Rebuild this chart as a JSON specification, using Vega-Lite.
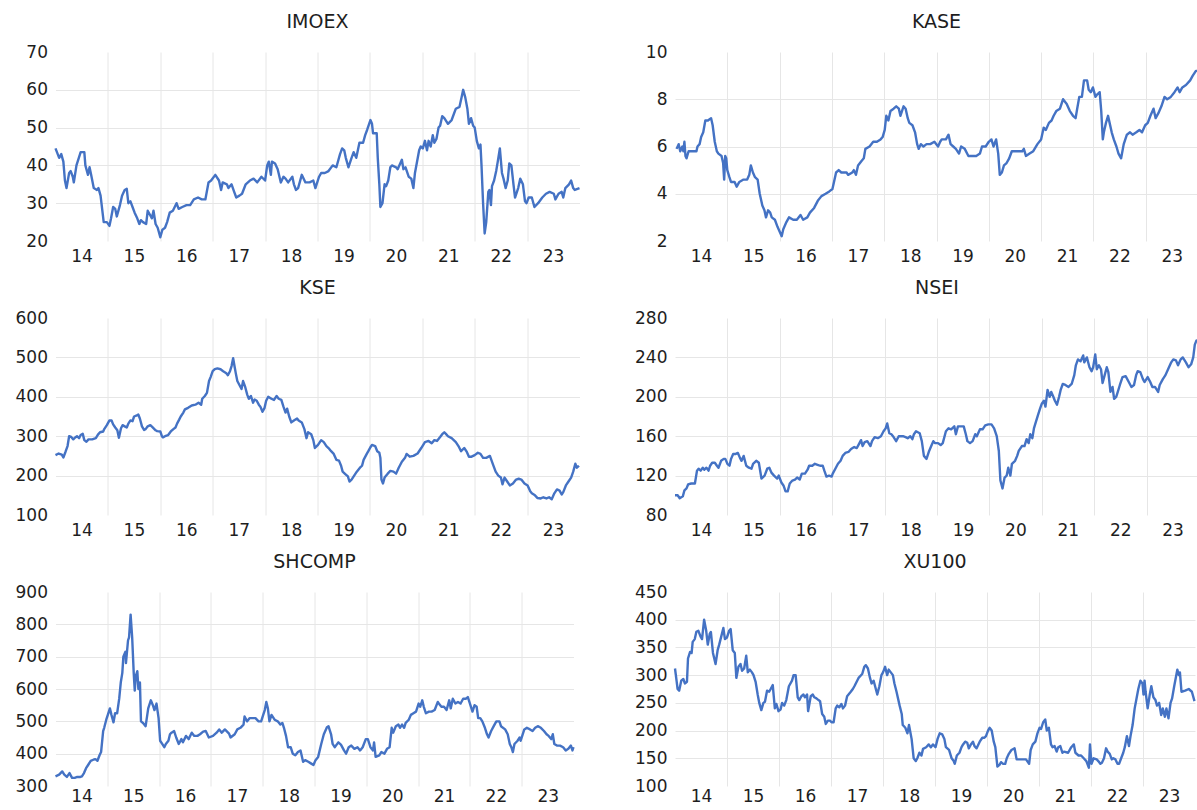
{
"$schema":"https://vega.github.io/schema/vega-lite/v6.json",
"padding":{"left":14.5,"top":13,"right":0,"bottom":0},
"background":"white",
"columns":2,
"spacing":{"row":77,"column":95.5},
"bounds":"flush",
"align":"none",
"config":{
 "view":{"stroke":null},
 "axis":{"domain":false,"ticks":false,"grid":true,"gridColor":"#e6e6e6","gridWidth":1,"labelFont":"DejaVu Sans","labelFontSize":17,"labelColor":"#1e1e1e","title":null},
 "title":{"font":"DejaVu Sans","fontSize":19,"fontWeight":"normal","color":"#1e1e1e","baseline":"bottom","offset":11,"anchor":"middle"},
 "line":{"color":"#4472c4","strokeWidth":2.4,"strokeJoin":"round"}
},
"datasets":{
"IMOEX":[{"t":2014.00,"v":44.5},{"t":2014.07,"v":42},{"t":2014.11,"v":43},{"t":2014.15,"v":41},{"t":2014.18,"v":36},{"t":2014.21,"v":34},{"t":2014.26,"v":38},{"t":2014.29,"v":38.5},{"t":2014.33,"v":37},{"t":2014.35,"v":35.5},{"t":2014.40,"v":40},{"t":2014.48,"v":43.5},{"t":2014.55,"v":43.5},{"t":2014.57,"v":40},{"t":2014.62,"v":37.5},{"t":2014.65,"v":39.5},{"t":2014.68,"v":37.5},{"t":2014.73,"v":34},{"t":2014.79,"v":33.5},{"t":2014.82,"v":34},{"t":2014.86,"v":32},{"t":2014.92,"v":25},{"t":2014.98,"v":25},{"t":2015.03,"v":24},{"t":2015.06,"v":26},{"t":2015.10,"v":29},{"t":2015.14,"v":28.5},{"t":2015.17,"v":26.5},{"t":2015.23,"v":29.5},{"t":2015.27,"v":32},{"t":2015.32,"v":33.5},{"t":2015.36,"v":33.8},{"t":2015.39,"v":30},{"t":2015.43,"v":30.5},{"t":2015.47,"v":29},{"t":2015.51,"v":27.5},{"t":2015.56,"v":26},{"t":2015.60,"v":24.5},{"t":2015.63,"v":25.5},{"t":2015.67,"v":25},{"t":2015.73,"v":24.5},{"t":2015.76,"v":28},{"t":2015.80,"v":27},{"t":2015.84,"v":26},{"t":2015.87,"v":28},{"t":2015.91,"v":24.5},{"t":2015.95,"v":23.5},{"t":2016.00,"v":21},{"t":2016.04,"v":23},{"t":2016.09,"v":23.5},{"t":2016.13,"v":25},{"t":2016.18,"v":27.5},{"t":2016.24,"v":28},{"t":2016.31,"v":30},{"t":2016.35,"v":28.5},{"t":2016.42,"v":29},{"t":2016.50,"v":29.5},{"t":2016.57,"v":29.5},{"t":2016.64,"v":31},{"t":2016.72,"v":31.5},{"t":2016.79,"v":31},{"t":2016.86,"v":31},{"t":2016.92,"v":35.5},{"t":2016.97,"v":36},{"t":2017.05,"v":37.5},{"t":2017.12,"v":36},{"t":2017.16,"v":33.5},{"t":2017.19,"v":35.5},{"t":2017.27,"v":35},{"t":2017.30,"v":34},{"t":2017.36,"v":35},{"t":2017.41,"v":33},{"t":2017.45,"v":31.5},{"t":2017.51,"v":32},{"t":2017.56,"v":32.5},{"t":2017.63,"v":35},{"t":2017.71,"v":36},{"t":2017.78,"v":36.5},{"t":2017.85,"v":35.5},{"t":2017.93,"v":37},{"t":2018.00,"v":36},{"t":2018.04,"v":40},{"t":2018.07,"v":41},{"t":2018.11,"v":37.5},{"t":2018.13,"v":41},{"t":2018.19,"v":40.5},{"t":2018.24,"v":39},{"t":2018.30,"v":35.5},{"t":2018.35,"v":37},{"t":2018.39,"v":36.5},{"t":2018.44,"v":35.5},{"t":2018.52,"v":37},{"t":2018.55,"v":35},{"t":2018.59,"v":33.5},{"t":2018.63,"v":34},{"t":2018.70,"v":37.5},{"t":2018.77,"v":35.5},{"t":2018.85,"v":35.5},{"t":2018.92,"v":36},{"t":2018.96,"v":34},{"t":2019.03,"v":37},{"t":2019.07,"v":38},{"t":2019.14,"v":38},{"t":2019.21,"v":38.5},{"t":2019.29,"v":40},{"t":2019.36,"v":39.5},{"t":2019.43,"v":43},{"t":2019.47,"v":44.5},{"t":2019.51,"v":44},{"t":2019.54,"v":42},{"t":2019.59,"v":39.5},{"t":2019.65,"v":42},{"t":2019.69,"v":43.5},{"t":2019.74,"v":42},{"t":2019.80,"v":46},{"t":2019.87,"v":46},{"t":2019.91,"v":48},{"t":2019.95,"v":49.5},{"t":2020.01,"v":52},{"t":2020.04,"v":51},{"t":2020.06,"v":48.5},{"t":2020.13,"v":48.5},{"t":2020.15,"v":42},{"t":2020.18,"v":35},{"t":2020.20,"v":29},{"t":2020.24,"v":30},{"t":2020.28,"v":35},{"t":2020.31,"v":34.5},{"t":2020.35,"v":36},{"t":2020.39,"v":39.5},{"t":2020.42,"v":40},{"t":2020.50,"v":39.5},{"t":2020.53,"v":39},{"t":2020.61,"v":41.5},{"t":2020.64,"v":39},{"t":2020.68,"v":39.5},{"t":2020.74,"v":37},{"t":2020.79,"v":36.5},{"t":2020.83,"v":34},{"t":2020.86,"v":38},{"t":2020.94,"v":44},{"t":2020.97,"v":45},{"t":2021.01,"v":44.5},{"t":2021.05,"v":46.5},{"t":2021.09,"v":44},{"t":2021.12,"v":46.5},{"t":2021.16,"v":45},{"t":2021.20,"v":48},{"t":2021.23,"v":46},{"t":2021.27,"v":47},{"t":2021.31,"v":50},{"t":2021.34,"v":50.5},{"t":2021.38,"v":53},{"t":2021.42,"v":52.5},{"t":2021.49,"v":51},{"t":2021.56,"v":52},{"t":2021.64,"v":55},{"t":2021.71,"v":55.5},{"t":2021.75,"v":58},{"t":2021.78,"v":60},{"t":2021.82,"v":58},{"t":2021.86,"v":55},{"t":2021.89,"v":51},{"t":2021.93,"v":52.5},{"t":2021.97,"v":50.5},{"t":2022.00,"v":50},{"t":2022.04,"v":46.5},{"t":2022.08,"v":44.5},{"t":2022.11,"v":45.5},{"t":2022.13,"v":40},{"t":2022.16,"v":30},{"t":2022.19,"v":22},{"t":2022.22,"v":25},{"t":2022.26,"v":33},{"t":2022.28,"v":33.5},{"t":2022.31,"v":29.5},{"t":2022.33,"v":34.5},{"t":2022.37,"v":36},{"t":2022.41,"v":38.5},{"t":2022.44,"v":41},{"t":2022.48,"v":44.5},{"t":2022.52,"v":38},{"t":2022.55,"v":36.5},{"t":2022.59,"v":34},{"t":2022.63,"v":36},{"t":2022.66,"v":40.5},{"t":2022.70,"v":40},{"t":2022.74,"v":35},{"t":2022.77,"v":31.5},{"t":2022.83,"v":34},{"t":2022.87,"v":36.5},{"t":2022.92,"v":35},{"t":2022.96,"v":30.5},{"t":2022.99,"v":30},{"t":2023.03,"v":31.5},{"t":2023.09,"v":31.5},{"t":2023.14,"v":29},{"t":2023.21,"v":30},{"t":2023.29,"v":31.5},{"t":2023.36,"v":32.5},{"t":2023.43,"v":33},{"t":2023.51,"v":32.5},{"t":2023.54,"v":31},{"t":2023.60,"v":32.5},{"t":2023.66,"v":33},{"t":2023.69,"v":31.5},{"t":2023.73,"v":34},{"t":2023.80,"v":35},{"t":2023.84,"v":36},{"t":2023.88,"v":34},{"t":2023.91,"v":33.5},{"t":2024.00,"v":34}],
"KASE":[{"t":2014.03,"v":5.9},{"t":2014.07,"v":6.1},{"t":2014.10,"v":5.8},{"t":2014.14,"v":6.0},{"t":2014.16,"v":5.8},{"t":2014.18,"v":6.2},{"t":2014.20,"v":5.6},{"t":2014.22,"v":5.5},{"t":2014.26,"v":5.8},{"t":2014.36,"v":5.8},{"t":2014.41,"v":5.8},{"t":2014.43,"v":6.0},{"t":2014.47,"v":6.1},{"t":2014.50,"v":6.4},{"t":2014.54,"v":6.6},{"t":2014.58,"v":7.1},{"t":2014.63,"v":7.1},{"t":2014.69,"v":7.2},{"t":2014.72,"v":6.9},{"t":2014.76,"v":6.2},{"t":2014.80,"v":5.8},{"t":2014.83,"v":5.7},{"t":2014.89,"v":5.6},{"t":2014.92,"v":5.3},{"t":2014.94,"v":4.6},{"t":2014.96,"v":5.6},{"t":2014.98,"v":5.5},{"t":2015.00,"v":5.0},{"t":2015.04,"v":4.7},{"t":2015.07,"v":4.5},{"t":2015.14,"v":4.5},{"t":2015.18,"v":4.3},{"t":2015.23,"v":4.5},{"t":2015.31,"v":4.6},{"t":2015.38,"v":4.6},{"t":2015.42,"v":4.8},{"t":2015.45,"v":5.2},{"t":2015.49,"v":4.9},{"t":2015.53,"v":4.7},{"t":2015.58,"v":4.6},{"t":2015.62,"v":4.0},{"t":2015.67,"v":3.5},{"t":2015.71,"v":3.3},{"t":2015.74,"v":3.0},{"t":2015.78,"v":3.3},{"t":2015.82,"v":3.2},{"t":2015.85,"v":3.0},{"t":2015.91,"v":2.9},{"t":2015.96,"v":2.6},{"t":2016.00,"v":2.4},{"t":2016.04,"v":2.2},{"t":2016.07,"v":2.5},{"t":2016.13,"v":2.8},{"t":2016.18,"v":3.0},{"t":2016.26,"v":2.9},{"t":2016.33,"v":2.9},{"t":2016.40,"v":3.1},{"t":2016.45,"v":2.9},{"t":2016.53,"v":3.0},{"t":2016.58,"v":3.2},{"t":2016.66,"v":3.4},{"t":2016.73,"v":3.7},{"t":2016.80,"v":3.9},{"t":2016.88,"v":4.0},{"t":2016.95,"v":4.1},{"t":2017.01,"v":4.2},{"t":2017.04,"v":4.5},{"t":2017.08,"v":4.9},{"t":2017.13,"v":5.0},{"t":2017.18,"v":4.9},{"t":2017.28,"v":4.9},{"t":2017.31,"v":4.8},{"t":2017.39,"v":4.9},{"t":2017.42,"v":5.0},{"t":2017.46,"v":4.8},{"t":2017.50,"v":5.2},{"t":2017.57,"v":5.4},{"t":2017.61,"v":5.5},{"t":2017.64,"v":5.9},{"t":2017.72,"v":6.0},{"t":2017.79,"v":6.2},{"t":2017.86,"v":6.2},{"t":2017.93,"v":6.3},{"t":2017.97,"v":6.4},{"t":2018.01,"v":6.7},{"t":2018.04,"v":7.3},{"t":2018.08,"v":7.1},{"t":2018.12,"v":7.5},{"t":2018.18,"v":7.6},{"t":2018.23,"v":7.7},{"t":2018.28,"v":7.6},{"t":2018.31,"v":7.3},{"t":2018.37,"v":7.7},{"t":2018.41,"v":7.6},{"t":2018.45,"v":7.2},{"t":2018.48,"v":7.0},{"t":2018.54,"v":6.9},{"t":2018.59,"v":6.6},{"t":2018.63,"v":6.1},{"t":2018.66,"v":5.9},{"t":2018.70,"v":6.1},{"t":2018.75,"v":6.0},{"t":2018.81,"v":6.1},{"t":2018.88,"v":6.1},{"t":2018.96,"v":6.2},{"t":2019.03,"v":6.0},{"t":2019.07,"v":6.2},{"t":2019.10,"v":6.3},{"t":2019.18,"v":6.3},{"t":2019.23,"v":6.5},{"t":2019.27,"v":6.1},{"t":2019.32,"v":6.0},{"t":2019.37,"v":5.9},{"t":2019.43,"v":5.7},{"t":2019.47,"v":6.0},{"t":2019.54,"v":5.9},{"t":2019.61,"v":5.6},{"t":2019.69,"v":5.6},{"t":2019.76,"v":5.6},{"t":2019.83,"v":5.7},{"t":2019.87,"v":6.0},{"t":2019.94,"v":6.0},{"t":2020.00,"v":6.2},{"t":2020.05,"v":6.3},{"t":2020.09,"v":6.0},{"t":2020.14,"v":6.3},{"t":2020.18,"v":5.7},{"t":2020.21,"v":4.8},{"t":2020.25,"v":4.9},{"t":2020.29,"v":5.2},{"t":2020.34,"v":5.3},{"t":2020.39,"v":5.5},{"t":2020.44,"v":5.8},{"t":2020.49,"v":5.8},{"t":2020.56,"v":5.8},{"t":2020.64,"v":5.8},{"t":2020.67,"v":5.9},{"t":2020.71,"v":5.6},{"t":2020.78,"v":5.7},{"t":2020.85,"v":5.8},{"t":2020.93,"v":6.1},{"t":2021.00,"v":6.3},{"t":2021.05,"v":6.8},{"t":2021.09,"v":6.7},{"t":2021.15,"v":7.0},{"t":2021.20,"v":7.1},{"t":2021.24,"v":7.3},{"t":2021.29,"v":7.5},{"t":2021.36,"v":7.6},{"t":2021.42,"v":8.0},{"t":2021.49,"v":7.8},{"t":2021.55,"v":7.5},{"t":2021.61,"v":7.3},{"t":2021.66,"v":7.2},{"t":2021.69,"v":7.6},{"t":2021.73,"v":8.1},{"t":2021.78,"v":8.1},{"t":2021.82,"v":8.8},{"t":2021.88,"v":8.8},{"t":2021.91,"v":8.4},{"t":2021.95,"v":8.3},{"t":2021.99,"v":8.5},{"t":2022.04,"v":8.1},{"t":2022.07,"v":8.2},{"t":2022.12,"v":8.3},{"t":2022.15,"v":7.5},{"t":2022.18,"v":6.3},{"t":2022.20,"v":6.6},{"t":2022.24,"v":7.0},{"t":2022.28,"v":7.3},{"t":2022.31,"v":7.0},{"t":2022.35,"v":6.6},{"t":2022.39,"v":6.3},{"t":2022.44,"v":6.0},{"t":2022.48,"v":5.7},{"t":2022.53,"v":5.5},{"t":2022.58,"v":6.1},{"t":2022.64,"v":6.5},{"t":2022.70,"v":6.6},{"t":2022.75,"v":6.5},{"t":2022.82,"v":6.6},{"t":2022.88,"v":6.7},{"t":2022.93,"v":6.6},{"t":2022.99,"v":6.9},{"t":2023.04,"v":7.0},{"t":2023.09,"v":7.3},{"t":2023.15,"v":7.6},{"t":2023.19,"v":7.2},{"t":2023.24,"v":7.4},{"t":2023.30,"v":7.7},{"t":2023.36,"v":8.1},{"t":2023.41,"v":8.0},{"t":2023.48,"v":8.1},{"t":2023.55,"v":8.3},{"t":2023.61,"v":8.5},{"t":2023.65,"v":8.3},{"t":2023.70,"v":8.5},{"t":2023.77,"v":8.6},{"t":2023.85,"v":8.8},{"t":2023.90,"v":9.0},{"t":2023.96,"v":9.2},{"t":2024.00,"v":9.2}],
"KSE":[{"t":2014.00,"v":252},{"t":2014.06,"v":256},{"t":2014.12,"v":253},{"t":2014.15,"v":246},{"t":2014.19,"v":260},{"t":2014.23,"v":275},{"t":2014.26,"v":300},{"t":2014.30,"v":298},{"t":2014.34,"v":292},{"t":2014.37,"v":296},{"t":2014.41,"v":300},{"t":2014.45,"v":295},{"t":2014.48,"v":303},{"t":2014.52,"v":306},{"t":2014.55,"v":290},{"t":2014.59,"v":286},{"t":2014.63,"v":292},{"t":2014.70,"v":292},{"t":2014.77,"v":295},{"t":2014.81,"v":304},{"t":2014.85,"v":310},{"t":2014.91,"v":312},{"t":2014.93,"v":318},{"t":2014.98,"v":328},{"t":2015.03,"v":340},{"t":2015.07,"v":340},{"t":2015.10,"v":330},{"t":2015.14,"v":322},{"t":2015.18,"v":315},{"t":2015.21,"v":296},{"t":2015.25,"v":320},{"t":2015.28,"v":328},{"t":2015.32,"v":325},{"t":2015.36,"v":322},{"t":2015.39,"v":332},{"t":2015.43,"v":340},{"t":2015.47,"v":338},{"t":2015.50,"v":350},{"t":2015.54,"v":352},{"t":2015.58,"v":355},{"t":2015.61,"v":345},{"t":2015.65,"v":325},{"t":2015.69,"v":316},{"t":2015.72,"v":318},{"t":2015.76,"v":325},{"t":2015.81,"v":328},{"t":2015.85,"v":323},{"t":2015.91,"v":315},{"t":2015.94,"v":313},{"t":2016.00,"v":312},{"t":2016.03,"v":300},{"t":2016.05,"v":297},{"t":2016.09,"v":300},{"t":2016.15,"v":303},{"t":2016.20,"v":312},{"t":2016.25,"v":318},{"t":2016.29,"v":322},{"t":2016.32,"v":332},{"t":2016.36,"v":342},{"t":2016.39,"v":350},{"t":2016.44,"v":360},{"t":2016.47,"v":368},{"t":2016.53,"v":372},{"t":2016.60,"v":378},{"t":2016.67,"v":380},{"t":2016.73,"v":385},{"t":2016.78,"v":380},{"t":2016.80,"v":395},{"t":2016.85,"v":402},{"t":2016.89,"v":410},{"t":2016.93,"v":440},{"t":2016.96,"v":450},{"t":2017.00,"v":465},{"t":2017.04,"v":470},{"t":2017.09,"v":472},{"t":2017.15,"v":470},{"t":2017.20,"v":465},{"t":2017.26,"v":460},{"t":2017.29,"v":455},{"t":2017.33,"v":465},{"t":2017.36,"v":478},{"t":2017.39,"v":498},{"t":2017.42,"v":475},{"t":2017.44,"v":460},{"t":2017.47,"v":440},{"t":2017.51,"v":430},{"t":2017.55,"v":420},{"t":2017.58,"v":440},{"t":2017.62,"v":425},{"t":2017.66,"v":405},{"t":2017.69,"v":395},{"t":2017.73,"v":402},{"t":2017.77,"v":385},{"t":2017.80,"v":393},{"t":2017.84,"v":390},{"t":2017.88,"v":380},{"t":2017.91,"v":375},{"t":2017.95,"v":362},{"t":2017.99,"v":372},{"t":2018.02,"v":390},{"t":2018.06,"v":400},{"t":2018.12,"v":395},{"t":2018.17,"v":392},{"t":2018.22,"v":402},{"t":2018.26,"v":395},{"t":2018.31,"v":392},{"t":2018.35,"v":375},{"t":2018.39,"v":360},{"t":2018.42,"v":370},{"t":2018.46,"v":350},{"t":2018.50,"v":335},{"t":2018.55,"v":340},{"t":2018.61,"v":345},{"t":2018.64,"v":340},{"t":2018.70,"v":335},{"t":2018.75,"v":318},{"t":2018.79,"v":295},{"t":2018.82,"v":310},{"t":2018.88,"v":305},{"t":2018.92,"v":290},{"t":2018.95,"v":270},{"t":2019.01,"v":278},{"t":2019.07,"v":290},{"t":2019.12,"v":285},{"t":2019.17,"v":275},{"t":2019.21,"v":270},{"t":2019.26,"v":262},{"t":2019.31,"v":255},{"t":2019.36,"v":240},{"t":2019.41,"v":238},{"t":2019.45,"v":225},{"t":2019.48,"v":210},{"t":2019.53,"v":204},{"t":2019.58,"v":198},{"t":2019.61,"v":185},{"t":2019.65,"v":190},{"t":2019.70,"v":200},{"t":2019.75,"v":210},{"t":2019.81,"v":220},{"t":2019.85,"v":225},{"t":2019.88,"v":240},{"t":2019.94,"v":255},{"t":2019.97,"v":262},{"t":2020.01,"v":272},{"t":2020.04,"v":278},{"t":2020.10,"v":275},{"t":2020.14,"v":262},{"t":2020.18,"v":258},{"t":2020.20,"v":245},{"t":2020.22,"v":190},{"t":2020.25,"v":180},{"t":2020.28,"v":195},{"t":2020.34,"v":205},{"t":2020.39,"v":212},{"t":2020.45,"v":210},{"t":2020.50,"v":205},{"t":2020.55,"v":220},{"t":2020.61,"v":235},{"t":2020.67,"v":245},{"t":2020.70,"v":255},{"t":2020.76,"v":248},{"t":2020.83,"v":250},{"t":2020.91,"v":256},{"t":2020.98,"v":270},{"t":2021.05,"v":285},{"t":2021.12,"v":288},{"t":2021.18,"v":282},{"t":2021.23,"v":290},{"t":2021.28,"v":288},{"t":2021.34,"v":298},{"t":2021.38,"v":305},{"t":2021.42,"v":310},{"t":2021.45,"v":306},{"t":2021.49,"v":300},{"t":2021.56,"v":295},{"t":2021.64,"v":285},{"t":2021.69,"v":275},{"t":2021.74,"v":262},{"t":2021.80,"v":270},{"t":2021.85,"v":260},{"t":2021.89,"v":248},{"t":2021.94,"v":248},{"t":2022.00,"v":252},{"t":2022.06,"v":258},{"t":2022.11,"v":255},{"t":2022.16,"v":245},{"t":2022.22,"v":245},{"t":2022.29,"v":250},{"t":2022.35,"v":228},{"t":2022.40,"v":210},{"t":2022.45,"v":200},{"t":2022.50,"v":195},{"t":2022.53,"v":178},{"t":2022.57,"v":195},{"t":2022.62,"v":185},{"t":2022.67,"v":175},{"t":2022.73,"v":180},{"t":2022.79,"v":190},{"t":2022.84,"v":192},{"t":2022.89,"v":190},{"t":2022.95,"v":180},{"t":2023.01,"v":175},{"t":2023.06,"v":160},{"t":2023.09,"v":155},{"t":2023.15,"v":150},{"t":2023.20,"v":143},{"t":2023.26,"v":142},{"t":2023.31,"v":145},{"t":2023.37,"v":142},{"t":2023.42,"v":145},{"t":2023.47,"v":140},{"t":2023.52,"v":155},{"t":2023.57,"v":165},{"t":2023.62,"v":162},{"t":2023.66,"v":152},{"t":2023.69,"v":158},{"t":2023.74,"v":175},{"t":2023.79,"v":185},{"t":2023.84,"v":195},{"t":2023.88,"v":210},{"t":2023.92,"v":230},{"t":2023.95,"v":220},{"t":2023.99,"v":225}],
"NSEI":[{"t":2014.00,"v":100},{"t":2014.05,"v":100},{"t":2014.09,"v":97},{"t":2014.15,"v":99},{"t":2014.18,"v":105},{"t":2014.22,"v":107},{"t":2014.25,"v":111},{"t":2014.31,"v":112},{"t":2014.38,"v":112},{"t":2014.42,"v":125},{"t":2014.45,"v":127},{"t":2014.49,"v":125},{"t":2014.53,"v":128},{"t":2014.56,"v":126},{"t":2014.60,"v":128},{"t":2014.64,"v":125},{"t":2014.67,"v":130},{"t":2014.71,"v":133},{"t":2014.76,"v":133},{"t":2014.80,"v":130},{"t":2014.83,"v":128},{"t":2014.88,"v":135},{"t":2014.93,"v":137},{"t":2014.96,"v":137},{"t":2015.00,"v":132},{"t":2015.04,"v":130},{"t":2015.07,"v":137},{"t":2015.11,"v":142},{"t":2015.16,"v":142},{"t":2015.20,"v":143},{"t":2015.24,"v":138},{"t":2015.27,"v":135},{"t":2015.31,"v":140},{"t":2015.36,"v":130},{"t":2015.41,"v":128},{"t":2015.46,"v":127},{"t":2015.49,"v":132},{"t":2015.55,"v":135},{"t":2015.60,"v":133},{"t":2015.65,"v":117},{"t":2015.71,"v":120},{"t":2015.76,"v":127},{"t":2015.80,"v":128},{"t":2015.84,"v":123},{"t":2015.89,"v":120},{"t":2015.95,"v":117},{"t":2015.98,"v":120},{"t":2016.03,"v":113},{"t":2016.07,"v":110},{"t":2016.11,"v":104},{"t":2016.15,"v":104},{"t":2016.19,"v":112},{"t":2016.24,"v":115},{"t":2016.29,"v":116},{"t":2016.33,"v":118},{"t":2016.38,"v":116},{"t":2016.42,"v":122},{"t":2016.48,"v":122},{"t":2016.53,"v":126},{"t":2016.56,"v":130},{"t":2016.62,"v":130},{"t":2016.67,"v":132},{"t":2016.72,"v":131},{"t":2016.77,"v":130},{"t":2016.82,"v":130},{"t":2016.85,"v":125},{"t":2016.89,"v":119},{"t":2016.94,"v":120},{"t":2016.99,"v":119},{"t":2017.01,"v":122},{"t":2017.06,"v":127},{"t":2017.11,"v":132},{"t":2017.16,"v":135},{"t":2017.20,"v":140},{"t":2017.25,"v":143},{"t":2017.31,"v":144},{"t":2017.36,"v":147},{"t":2017.42,"v":149},{"t":2017.47,"v":148},{"t":2017.51,"v":152},{"t":2017.55,"v":156},{"t":2017.58,"v":150},{"t":2017.62,"v":154},{"t":2017.67,"v":155},{"t":2017.73,"v":150},{"t":2017.76,"v":155},{"t":2017.81,"v":159},{"t":2017.87,"v":158},{"t":2017.93,"v":160},{"t":2017.98,"v":165},{"t":2018.02,"v":168},{"t":2018.05,"v":173},{"t":2018.09,"v":163},{"t":2018.13,"v":162},{"t":2018.16,"v":160},{"t":2018.22,"v":155},{"t":2018.27,"v":160},{"t":2018.35,"v":160},{"t":2018.40,"v":159},{"t":2018.44,"v":158},{"t":2018.49,"v":160},{"t":2018.53,"v":157},{"t":2018.56,"v":162},{"t":2018.60,"v":165},{"t":2018.67,"v":163},{"t":2018.71,"v":155},{"t":2018.75,"v":140},{"t":2018.80,"v":137},{"t":2018.85,"v":145},{"t":2018.89,"v":150},{"t":2018.93,"v":155},{"t":2018.96,"v":153},{"t":2019.02,"v":153},{"t":2019.07,"v":151},{"t":2019.11,"v":153},{"t":2019.17,"v":165},{"t":2019.22,"v":168},{"t":2019.27,"v":167},{"t":2019.33,"v":170},{"t":2019.36,"v":162},{"t":2019.40,"v":170},{"t":2019.46,"v":170},{"t":2019.51,"v":170},{"t":2019.55,"v":162},{"t":2019.58,"v":155},{"t":2019.63,"v":153},{"t":2019.68,"v":155},{"t":2019.73,"v":162},{"t":2019.76,"v":160},{"t":2019.82,"v":167},{"t":2019.87,"v":167},{"t":2019.92,"v":171},{"t":2019.98,"v":172},{"t":2020.04,"v":172},{"t":2020.09,"v":168},{"t":2020.14,"v":160},{"t":2020.18,"v":145},{"t":2020.21,"v":115},{"t":2020.25,"v":107},{"t":2020.29,"v":118},{"t":2020.33,"v":120},{"t":2020.36,"v":128},{"t":2020.40,"v":120},{"t":2020.43,"v":132},{"t":2020.49,"v":135},{"t":2020.53,"v":140},{"t":2020.56,"v":145},{"t":2020.62,"v":150},{"t":2020.67,"v":150},{"t":2020.71,"v":157},{"t":2020.75,"v":153},{"t":2020.78,"v":162},{"t":2020.82,"v":158},{"t":2020.85,"v":168},{"t":2020.89,"v":175},{"t":2020.93,"v":182},{"t":2020.96,"v":187},{"t":2021.00,"v":193},{"t":2021.04,"v":196},{"t":2021.07,"v":190},{"t":2021.11,"v":207},{"t":2021.15,"v":200},{"t":2021.18,"v":205},{"t":2021.22,"v":200},{"t":2021.25,"v":196},{"t":2021.29,"v":192},{"t":2021.33,"v":200},{"t":2021.36,"v":207},{"t":2021.40,"v":213},{"t":2021.45,"v":212},{"t":2021.51,"v":210},{"t":2021.57,"v":213},{"t":2021.62,"v":222},{"t":2021.65,"v":232},{"t":2021.69,"v":238},{"t":2021.74,"v":236},{"t":2021.79,"v":242},{"t":2021.81,"v":235},{"t":2021.86,"v":240},{"t":2021.91,"v":230},{"t":2021.95,"v":226},{"t":2021.98,"v":230},{"t":2022.02,"v":243},{"t":2022.05,"v":228},{"t":2022.09,"v":232},{"t":2022.13,"v":228},{"t":2022.16,"v":214},{"t":2022.20,"v":222},{"t":2022.24,"v":230},{"t":2022.27,"v":225},{"t":2022.31,"v":205},{"t":2022.35,"v":210},{"t":2022.38,"v":198},{"t":2022.42,"v":200},{"t":2022.45,"v":205},{"t":2022.49,"v":212},{"t":2022.54,"v":220},{"t":2022.60,"v":221},{"t":2022.66,"v":215},{"t":2022.71,"v":210},{"t":2022.76,"v":212},{"t":2022.80,"v":222},{"t":2022.83,"v":226},{"t":2022.88,"v":225},{"t":2022.93,"v":218},{"t":2022.96,"v":215},{"t":2023.02,"v":220},{"t":2023.07,"v":215},{"t":2023.11,"v":210},{"t":2023.16,"v":210},{"t":2023.22,"v":205},{"t":2023.25,"v":212},{"t":2023.31,"v":218},{"t":2023.36,"v":222},{"t":2023.41,"v":228},{"t":2023.47,"v":235},{"t":2023.51,"v":238},{"t":2023.56,"v":237},{"t":2023.60,"v":232},{"t":2023.65,"v":238},{"t":2023.69,"v":240},{"t":2023.75,"v":235},{"t":2023.80,"v":230},{"t":2023.85,"v":233},{"t":2023.89,"v":240},{"t":2023.92,"v":253},{"t":2023.95,"v":257},{"t":2024.00,"v":258}],
"SHCOMP":[{"t":2014.00,"v":330},{"t":2014.07,"v":335},{"t":2014.13,"v":345},{"t":2014.17,"v":335},{"t":2014.22,"v":328},{"t":2014.27,"v":340},{"t":2014.32,"v":325},{"t":2014.37,"v":325},{"t":2014.42,"v":328},{"t":2014.48,"v":328},{"t":2014.51,"v":330},{"t":2014.55,"v":340},{"t":2014.59,"v":355},{"t":2014.63,"v":365},{"t":2014.68,"v":378},{"t":2014.74,"v":382},{"t":2014.77,"v":383},{"t":2014.81,"v":378},{"t":2014.85,"v":395},{"t":2014.88,"v":405},{"t":2014.92,"v":470},{"t":2014.94,"v":480},{"t":2014.98,"v":505},{"t":2015.01,"v":520},{"t":2015.05,"v":540},{"t":2015.08,"v":520},{"t":2015.12,"v":497},{"t":2015.15,"v":525},{"t":2015.19,"v":525},{"t":2015.23,"v":570},{"t":2015.26,"v":620},{"t":2015.29,"v":650},{"t":2015.31,"v":700},{"t":2015.35,"v":715},{"t":2015.36,"v":680},{"t":2015.40,"v":750},{"t":2015.42,"v":760},{"t":2015.45,"v":830},{"t":2015.48,"v":760},{"t":2015.51,"v":650},{"t":2015.53,"v":595},{"t":2015.55,"v":640},{"t":2015.58,"v":655},{"t":2015.60,"v":600},{"t":2015.63,"v":620},{"t":2015.65,"v":500},{"t":2015.69,"v":495},{"t":2015.74,"v":485},{"t":2015.79,"v":540},{"t":2015.84,"v":565},{"t":2015.88,"v":550},{"t":2015.91,"v":535},{"t":2015.95,"v":555},{"t":2015.99,"v":510},{"t":2016.02,"v":440},{"t":2016.06,"v":430},{"t":2016.10,"v":420},{"t":2016.13,"v":430},{"t":2016.18,"v":440},{"t":2016.21,"v":460},{"t":2016.24,"v":465},{"t":2016.29,"v":470},{"t":2016.33,"v":450},{"t":2016.38,"v":430},{"t":2016.43,"v":445},{"t":2016.46,"v":435},{"t":2016.52,"v":455},{"t":2016.57,"v":445},{"t":2016.63,"v":465},{"t":2016.68,"v":455},{"t":2016.74,"v":455},{"t":2016.79,"v":460},{"t":2016.85,"v":468},{"t":2016.90,"v":470},{"t":2016.96,"v":450},{"t":2017.04,"v":455},{"t":2017.11,"v":465},{"t":2017.16,"v":475},{"t":2017.21,"v":465},{"t":2017.27,"v":475},{"t":2017.35,"v":462},{"t":2017.38,"v":450},{"t":2017.46,"v":460},{"t":2017.51,"v":475},{"t":2017.57,"v":480},{"t":2017.63,"v":490},{"t":2017.65,"v":515},{"t":2017.70,"v":500},{"t":2017.75,"v":510},{"t":2017.80,"v":510},{"t":2017.86,"v":510},{"t":2017.92,"v":500},{"t":2017.97,"v":500},{"t":2018.01,"v":520},{"t":2018.04,"v":535},{"t":2018.07,"v":560},{"t":2018.10,"v":540},{"t":2018.13,"v":500},{"t":2018.17,"v":520},{"t":2018.23,"v":505},{"t":2018.29,"v":500},{"t":2018.34,"v":490},{"t":2018.38,"v":495},{"t":2018.41,"v":480},{"t":2018.45,"v":455},{"t":2018.49,"v":420},{"t":2018.54,"v":420},{"t":2018.58,"v":400},{"t":2018.63,"v":395},{"t":2018.68,"v":405},{"t":2018.73,"v":410},{"t":2018.78,"v":375},{"t":2018.82,"v":380},{"t":2018.88,"v":375},{"t":2018.93,"v":370},{"t":2018.98,"v":365},{"t":2019.02,"v":380},{"t":2019.07,"v":390},{"t":2019.13,"v":430},{"t":2019.18,"v":460},{"t":2019.24,"v":482},{"t":2019.27,"v":485},{"t":2019.32,"v":460},{"t":2019.35,"v":430},{"t":2019.39,"v":420},{"t":2019.46,"v":435},{"t":2019.51,"v":428},{"t":2019.57,"v":410},{"t":2019.61,"v":400},{"t":2019.66,"v":420},{"t":2019.71,"v":425},{"t":2019.77,"v":415},{"t":2019.83,"v":420},{"t":2019.88,"v":410},{"t":2019.93,"v":420},{"t":2019.99,"v":445},{"t":2020.03,"v":445},{"t":2020.08,"v":420},{"t":2020.13,"v":410},{"t":2020.15,"v":435},{"t":2020.18,"v":390},{"t":2020.25,"v":395},{"t":2020.29,"v":405},{"t":2020.35,"v":400},{"t":2020.40,"v":415},{"t":2020.45,"v":420},{"t":2020.49,"v":480},{"t":2020.52,"v":465},{"t":2020.57,"v":485},{"t":2020.62,"v":490},{"t":2020.65,"v":480},{"t":2020.69,"v":490},{"t":2020.73,"v":480},{"t":2020.76,"v":495},{"t":2020.82,"v":505},{"t":2020.86,"v":520},{"t":2020.91,"v":525},{"t":2020.96,"v":530},{"t":2021.01,"v":555},{"t":2021.04,"v":545},{"t":2021.08,"v":565},{"t":2021.11,"v":545},{"t":2021.15,"v":525},{"t":2021.21,"v":530},{"t":2021.26,"v":530},{"t":2021.32,"v":535},{"t":2021.38,"v":560},{"t":2021.40,"v":555},{"t":2021.45,"v":545},{"t":2021.50,"v":545},{"t":2021.55,"v":535},{"t":2021.60,"v":565},{"t":2021.63,"v":540},{"t":2021.67,"v":570},{"t":2021.72,"v":555},{"t":2021.77,"v":560},{"t":2021.82,"v":555},{"t":2021.87,"v":570},{"t":2021.92,"v":570},{"t":2021.96,"v":575},{"t":2021.99,"v":560},{"t":2022.05,"v":530},{"t":2022.09,"v":550},{"t":2022.13,"v":545},{"t":2022.16,"v":510},{"t":2022.20,"v":510},{"t":2022.24,"v":500},{"t":2022.29,"v":480},{"t":2022.33,"v":460},{"t":2022.36,"v":450},{"t":2022.41,"v":470},{"t":2022.46,"v":485},{"t":2022.51,"v":500},{"t":2022.57,"v":500},{"t":2022.60,"v":485},{"t":2022.68,"v":475},{"t":2022.73,"v":460},{"t":2022.77,"v":430},{"t":2022.80,"v":420},{"t":2022.83,"v":405},{"t":2022.86,"v":430},{"t":2022.92,"v":440},{"t":2022.96,"v":450},{"t":2022.98,"v":440},{"t":2023.01,"v":455},{"t":2023.05,"v":475},{"t":2023.10,"v":480},{"t":2023.16,"v":475},{"t":2023.21,"v":470},{"t":2023.26,"v":480},{"t":2023.31,"v":485},{"t":2023.37,"v":480},{"t":2023.43,"v":470},{"t":2023.48,"v":460},{"t":2023.52,"v":455},{"t":2023.57,"v":445},{"t":2023.60,"v":460},{"t":2023.63,"v":430},{"t":2023.68,"v":425},{"t":2023.74,"v":425},{"t":2023.80,"v":420},{"t":2023.85,"v":410},{"t":2023.90,"v":415},{"t":2023.95,"v":425},{"t":2023.98,"v":410},{"t":2024.00,"v":420}],
"XU100":[{"t":2014.00,"v":312},{"t":2014.03,"v":290},{"t":2014.05,"v":275},{"t":2014.08,"v":272},{"t":2014.12,"v":290},{"t":2014.16,"v":293},{"t":2014.19,"v":285},{"t":2014.23,"v":288},{"t":2014.25,"v":330},{"t":2014.29,"v":342},{"t":2014.32,"v":340},{"t":2014.34,"v":360},{"t":2014.38,"v":365},{"t":2014.41,"v":378},{"t":2014.45,"v":380},{"t":2014.49,"v":370},{"t":2014.52,"v":365},{"t":2014.56,"v":400},{"t":2014.60,"v":380},{"t":2014.63,"v":355},{"t":2014.67,"v":375},{"t":2014.69,"v":378},{"t":2014.73,"v":340},{"t":2014.78,"v":320},{"t":2014.82,"v":345},{"t":2014.85,"v":355},{"t":2014.89,"v":370},{"t":2014.93,"v":385},{"t":2014.96,"v":365},{"t":2015.00,"v":368},{"t":2015.04,"v":380},{"t":2015.07,"v":383},{"t":2015.11,"v":345},{"t":2015.15,"v":340},{"t":2015.18,"v":295},{"t":2015.22,"v":315},{"t":2015.26,"v":320},{"t":2015.29,"v":308},{"t":2015.33,"v":312},{"t":2015.37,"v":335},{"t":2015.40,"v":305},{"t":2015.44,"v":310},{"t":2015.48,"v":305},{"t":2015.51,"v":300},{"t":2015.55,"v":288},{"t":2015.59,"v":265},{"t":2015.62,"v":250},{"t":2015.66,"v":237},{"t":2015.70,"v":250},{"t":2015.73,"v":252},{"t":2015.77,"v":272},{"t":2015.81,"v":270},{"t":2015.84,"v":275},{"t":2015.88,"v":282},{"t":2015.92,"v":240},{"t":2015.95,"v":248},{"t":2015.99,"v":235},{"t":2016.03,"v":238},{"t":2016.06,"v":250},{"t":2016.10,"v":245},{"t":2016.14,"v":255},{"t":2016.19,"v":280},{"t":2016.25,"v":290},{"t":2016.28,"v":300},{"t":2016.32,"v":300},{"t":2016.36,"v":260},{"t":2016.39,"v":255},{"t":2016.43,"v":262},{"t":2016.47,"v":265},{"t":2016.50,"v":260},{"t":2016.54,"v":265},{"t":2016.56,"v":235},{"t":2016.61,"v":262},{"t":2016.65,"v":265},{"t":2016.68,"v":260},{"t":2016.72,"v":258},{"t":2016.76,"v":255},{"t":2016.79,"v":253},{"t":2016.83,"v":230},{"t":2016.87,"v":225},{"t":2016.90,"v":212},{"t":2016.94,"v":218},{"t":2016.98,"v":218},{"t":2017.01,"v":215},{"t":2017.05,"v":215},{"t":2017.09,"v":240},{"t":2017.12,"v":245},{"t":2017.16,"v":242},{"t":2017.20,"v":248},{"t":2017.23,"v":240},{"t":2017.27,"v":245},{"t":2017.31,"v":262},{"t":2017.38,"v":270},{"t":2017.42,"v":275},{"t":2017.45,"v":280},{"t":2017.53,"v":295},{"t":2017.60,"v":302},{"t":2017.64,"v":315},{"t":2017.67,"v":318},{"t":2017.71,"v":312},{"t":2017.75,"v":295},{"t":2017.78,"v":285},{"t":2017.82,"v":290},{"t":2017.89,"v":265},{"t":2017.93,"v":280},{"t":2017.97,"v":300},{"t":2018.00,"v":305},{"t":2018.04,"v":315},{"t":2018.08,"v":300},{"t":2018.11,"v":310},{"t":2018.15,"v":305},{"t":2018.19,"v":300},{"t":2018.22,"v":285},{"t":2018.26,"v":270},{"t":2018.32,"v":245},{"t":2018.36,"v":230},{"t":2018.38,"v":210},{"t":2018.43,"v":205},{"t":2018.47,"v":195},{"t":2018.50,"v":210},{"t":2018.55,"v":185},{"t":2018.59,"v":150},{"t":2018.63,"v":145},{"t":2018.66,"v":150},{"t":2018.70,"v":160},{"t":2018.74,"v":155},{"t":2018.77,"v":167},{"t":2018.83,"v":170},{"t":2018.88,"v":175},{"t":2018.92,"v":170},{"t":2018.96,"v":175},{"t":2019.01,"v":170},{"t":2019.05,"v":185},{"t":2019.09,"v":195},{"t":2019.14,"v":193},{"t":2019.18,"v":185},{"t":2019.21,"v":170},{"t":2019.27,"v":165},{"t":2019.32,"v":150},{"t":2019.36,"v":145},{"t":2019.38,"v":140},{"t":2019.42,"v":155},{"t":2019.47,"v":160},{"t":2019.51,"v":170},{"t":2019.54,"v":175},{"t":2019.58,"v":180},{"t":2019.62,"v":178},{"t":2019.65,"v":168},{"t":2019.69,"v":175},{"t":2019.73,"v":180},{"t":2019.76,"v":172},{"t":2019.80,"v":168},{"t":2019.86,"v":180},{"t":2019.91,"v":187},{"t":2019.95,"v":187},{"t":2019.98,"v":190},{"t":2020.02,"v":200},{"t":2020.05,"v":205},{"t":2020.09,"v":200},{"t":2020.13,"v":180},{"t":2020.16,"v":170},{"t":2020.20,"v":135},{"t":2020.24,"v":138},{"t":2020.27,"v":143},{"t":2020.31,"v":140},{"t":2020.35,"v":140},{"t":2020.38,"v":150},{"t":2020.42,"v":158},{"t":2020.47,"v":165},{"t":2020.53,"v":168},{"t":2020.57,"v":148},{"t":2020.60,"v":148},{"t":2020.68,"v":148},{"t":2020.75,"v":148},{"t":2020.81,"v":140},{"t":2020.84,"v":165},{"t":2020.88,"v":175},{"t":2020.93,"v":180},{"t":2020.97,"v":195},{"t":2021.01,"v":205},{"t":2021.04,"v":203},{"t":2021.08,"v":215},{"t":2021.12,"v":220},{"t":2021.15,"v":200},{"t":2021.19,"v":205},{"t":2021.23,"v":175},{"t":2021.26,"v":170},{"t":2021.30,"v":172},{"t":2021.34,"v":162},{"t":2021.37,"v":170},{"t":2021.41,"v":172},{"t":2021.45,"v":160},{"t":2021.48,"v":162},{"t":2021.56,"v":160},{"t":2021.62,"v":170},{"t":2021.67,"v":175},{"t":2021.70,"v":160},{"t":2021.76,"v":155},{"t":2021.81,"v":155},{"t":2021.86,"v":150},{"t":2021.91,"v":145},{"t":2021.96,"v":133},{"t":2021.98,"v":175},{"t":2022.01,"v":140},{"t":2022.05,"v":150},{"t":2022.11,"v":148},{"t":2022.14,"v":145},{"t":2022.18,"v":140},{"t":2022.21,"v":142},{"t":2022.25,"v":150},{"t":2022.29,"v":168},{"t":2022.32,"v":162},{"t":2022.36,"v":158},{"t":2022.40,"v":148},{"t":2022.43,"v":150},{"t":2022.47,"v":148},{"t":2022.51,"v":140},{"t":2022.54,"v":140},{"t":2022.58,"v":150},{"t":2022.62,"v":160},{"t":2022.65,"v":170},{"t":2022.69,"v":190},{"t":2022.73,"v":172},{"t":2022.76,"v":190},{"t":2022.80,"v":210},{"t":2022.84,"v":240},{"t":2022.88,"v":260},{"t":2022.91,"v":275},{"t":2022.95,"v":290},{"t":2022.99,"v":285},{"t":2023.01,"v":265},{"t":2023.03,"v":290},{"t":2023.05,"v":270},{"t":2023.09,"v":240},{"t":2023.13,"v":265},{"t":2023.16,"v":280},{"t":2023.20,"v":260},{"t":2023.24,"v":255},{"t":2023.27,"v":245},{"t":2023.31,"v":250},{"t":2023.35,"v":228},{"t":2023.38,"v":240},{"t":2023.42,"v":225},{"t":2023.45,"v":240},{"t":2023.49,"v":222},{"t":2023.53,"v":250},{"t":2023.56,"v":258},{"t":2023.60,"v":280},{"t":2023.63,"v":295},{"t":2023.66,"v":310},{"t":2023.69,"v":300},{"t":2023.71,"v":305},{"t":2023.74,"v":270},{"t":2023.81,"v":272},{"t":2023.88,"v":275},{"t":2023.94,"v":270},{"t":2023.99,"v":253}]
},
"concat":[
{"title":"IMOEX","width":524,"height":189,"data":{"name":"IMOEX"},"mark":{"type":"line"},
 "encoding":{"x":{"field":"t","type":"quantitative","scale":{"domain":[2014,2024],"nice":false,"zero":false},"axis":{"values":[2014,2015,2016,2017,2018,2019,2020,2021,2022,2023],"labelExpr":"toString(datum.value-2000)","labelOffset":26,"labelPadding":7,"labelOverlap":false,"labelFlush":false,"gridOpacity":{"condition":{"test":"datum.value==2014","value":0},"value":1}}},
 "y":{"field":"v","type":"quantitative","scale":{"domain":[20,70],"nice":false,"zero":false},"axis":{"values":[20,30,40,50,60,70],"labelPadding":8,"gridOpacity":{"condition":{"test":"datum.value==20||datum.value==70","value":0},"value":1}}}}},
{"title":"KASE","width":523,"height":189,"data":{"name":"KASE"},"mark":{"type":"line"},
 "encoding":{"x":{"field":"t","type":"quantitative","scale":{"domain":[2014,2024],"nice":false,"zero":false},"axis":{"values":[2014,2015,2016,2017,2018,2019,2020,2021,2022,2023],"labelExpr":"toString(datum.value-2000)","labelOffset":26,"labelPadding":7,"labelOverlap":false,"labelFlush":false,"gridOpacity":{"condition":{"test":"datum.value==2014","value":0},"value":1}}},
 "y":{"field":"v","type":"quantitative","scale":{"domain":[2,10],"nice":false,"zero":false},"axis":{"values":[2,4,6,8,10],"labelPadding":8,"gridOpacity":{"condition":{"test":"datum.value==2||datum.value==10","value":0},"value":1}}}}},
{"title":"KSE","width":524,"height":197,"data":{"name":"KSE"},"mark":{"type":"line"},
 "encoding":{"x":{"field":"t","type":"quantitative","scale":{"domain":[2014,2024],"nice":false,"zero":false},"axis":{"values":[2014,2015,2016,2017,2018,2019,2020,2021,2022,2023],"labelExpr":"toString(datum.value-2000)","labelOffset":26,"labelPadding":7,"labelOverlap":false,"labelFlush":false,"gridOpacity":{"condition":{"test":"datum.value==2014","value":0},"value":1}}},
 "y":{"field":"v","type":"quantitative","scale":{"domain":[100,600],"nice":false,"zero":false},"axis":{"values":[100,200,300,400,500,600],"labelPadding":8,"gridOpacity":{"condition":{"test":"datum.value==100||datum.value==600","value":0},"value":1}}}}},
{"title":"NSEI","width":524,"height":197,"data":{"name":"NSEI"},"mark":{"type":"line"},
 "encoding":{"x":{"field":"t","type":"quantitative","scale":{"domain":[2014,2024],"nice":false,"zero":false},"axis":{"values":[2014,2015,2016,2017,2018,2019,2020,2021,2022,2023],"labelExpr":"toString(datum.value-2000)","labelOffset":26,"labelPadding":7,"labelOverlap":false,"labelFlush":false,"gridOpacity":{"condition":{"test":"datum.value==2014","value":0},"value":1}}},
 "y":{"field":"v","type":"quantitative","scale":{"domain":[80,280],"nice":false,"zero":false},"axis":{"values":[80,120,160,200,240,280],"labelPadding":8,"gridOpacity":{"condition":{"test":"datum.value==80||datum.value==280","value":0},"value":1}}}}},
{"title":"SHCOMP","width":518,"height":194,"data":{"name":"SHCOMP"},"mark":{"type":"line"},
 "encoding":{"x":{"field":"t","type":"quantitative","scale":{"domain":[2014,2024],"nice":false,"zero":false},"axis":{"values":[2014,2015,2016,2017,2018,2019,2020,2021,2022,2023],"labelExpr":"toString(datum.value-2000)","labelOffset":26,"labelPadding":2,"labelOverlap":false,"labelFlush":false,"gridOpacity":{"condition":{"test":"datum.value==2014","value":0},"value":1}}},
 "y":{"field":"v","type":"quantitative","scale":{"domain":[300,900],"nice":false,"zero":false},"axis":{"values":[300,400,500,600,700,800,900],"labelPadding":8,"gridOpacity":{"condition":{"test":"datum.value==300||datum.value==900","value":0},"value":1}}}}},
{"title":"XU100","width":520,"height":194,"data":{"name":"XU100"},"mark":{"type":"line"},
 "encoding":{"x":{"field":"t","type":"quantitative","scale":{"domain":[2014,2024],"nice":false,"zero":false},"axis":{"values":[2014,2015,2016,2017,2018,2019,2020,2021,2022,2023],"labelExpr":"toString(datum.value-2000)","labelOffset":26,"labelPadding":2,"labelOverlap":false,"labelFlush":false,"gridOpacity":{"condition":{"test":"datum.value==2014","value":0},"value":1}}},
 "y":{"field":"v","type":"quantitative","scale":{"domain":[100,450],"nice":false,"zero":false},"axis":{"values":[100,150,200,250,300,350,400,450],"labelPadding":8,"gridOpacity":{"condition":{"test":"datum.value==100||datum.value==450","value":0},"value":1}}}}}
]
}
